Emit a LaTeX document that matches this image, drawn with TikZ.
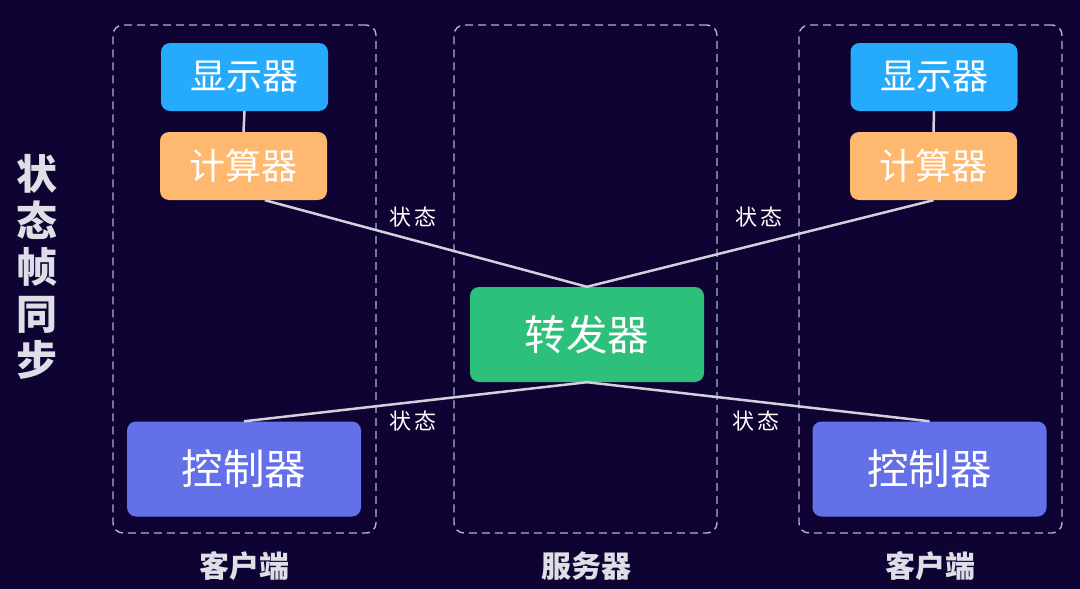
\documentclass[tikz,border=0pt]{standalone}
\usepackage{fontspec}
\setmainfont{Noto Sans CJK SC}
\usetikzlibrary{positioning,calc}
\definecolor{bgnavy}{RGB}{14,3,50}
\definecolor{dispblue}{RGB}{38,170,252}
\definecolor{calcorange}{RGB}{255,184,112}
\definecolor{fwdgreen}{RGB}{45,192,122}
\definecolor{ctrlviolet}{RGB}{100,112,232}
\definecolor{framegray}{RGB}{170,180,212}
\definecolor{linegray}{RGB}{210,210,220}
\definecolor{labelgray}{RGB}{222,222,230}

\begin{document}
\begin{tikzpicture}[x=1pt, y=-1pt,
      unit/.style={draw=framegray, dash pattern=on 8pt off 5pt, line width=1.4pt,
                   rounded corners=10pt, minimum width=263pt, minimum height=508pt},
      part/.style={rounded corners=9pt, minimum width=167pt, minimum height=68pt,
                   text=white, font=\fontsize{36}{40}\selectfont},
      bigpart/.style={part, minimum width=234pt, minimum height=95pt,
                      font=\fontsize{41.5}{46}\selectfont},
      link/.style={draw=linegray, line width=2.5pt},
      tag/.style={text=white, font=\fontsize{22}{25}\selectfont},
      side/.style={text=labelgray, font=\bfseries\fontsize{30}{33}\selectfont}
    ]
    \fill[bgnavy] (0,0) rectangle (1080,589);

    % the three frames
    \node[unit] (clientL) at (244.5,279) {};
    \node[unit] (server) at (585.5,279) {};
    \node[unit] (clientR) at (930.5,279) {};
    \node[side] (capL) at (244,566) {客户端};
    \node[side] (capS) at (586,566) {服务器};
    \node[side] (capR) at (930,566) {客户端};

    \node[side, font=\bfseries\fontsize{41}{46.6}\selectfont, align=center]
      (title) at (37,267) {状\\态\\帧\\同\\步};

    % parts
    \node[part, fill=dispblue] (dispL) at (244.5,77) {显示器};
    \node[part, fill=calcorange] (calcL) at (243.5,166) {计算器};
    \node[bigpart, fill=ctrlviolet] (ctrlL) at (244,469) {控制器};
    \node[bigpart, fill=fwdgreen] (fwd) at (587,334.5) {转发器};
    \node[part, fill=dispblue] (dispR) at (934,77) {显示器};
    \node[part, fill=calcorange] (calcR) at (933.5,166) {计算器};
    \node[bigpart, fill=ctrlviolet] (ctrlR) at (929.5,469) {控制器};

    \draw[link] (dispL.south) -- (calcL.north);
    \draw[link] (dispR.south) -- (calcR.north);
    \draw[link] (calcL.-58) -- (fwd.north);
    \draw[link] (calcR.south) -- (fwd.north);
    \draw[link] (fwd.south) -- (ctrlL.north);
    \draw[link] (fwd.south) -- (ctrlR.north);

    \node[tag] (stUL) at (413,217) {状\hspace{4pt}态};
    \node[tag] (stUR) at (759,217) {状\hspace{4pt}态};
    \node[tag] (stDL) at (413,421) {状\hspace{4pt}态};
    \node[tag] (stDR) at (756,421) {状\hspace{4pt}态};
  \end{tikzpicture}
\end{document}
